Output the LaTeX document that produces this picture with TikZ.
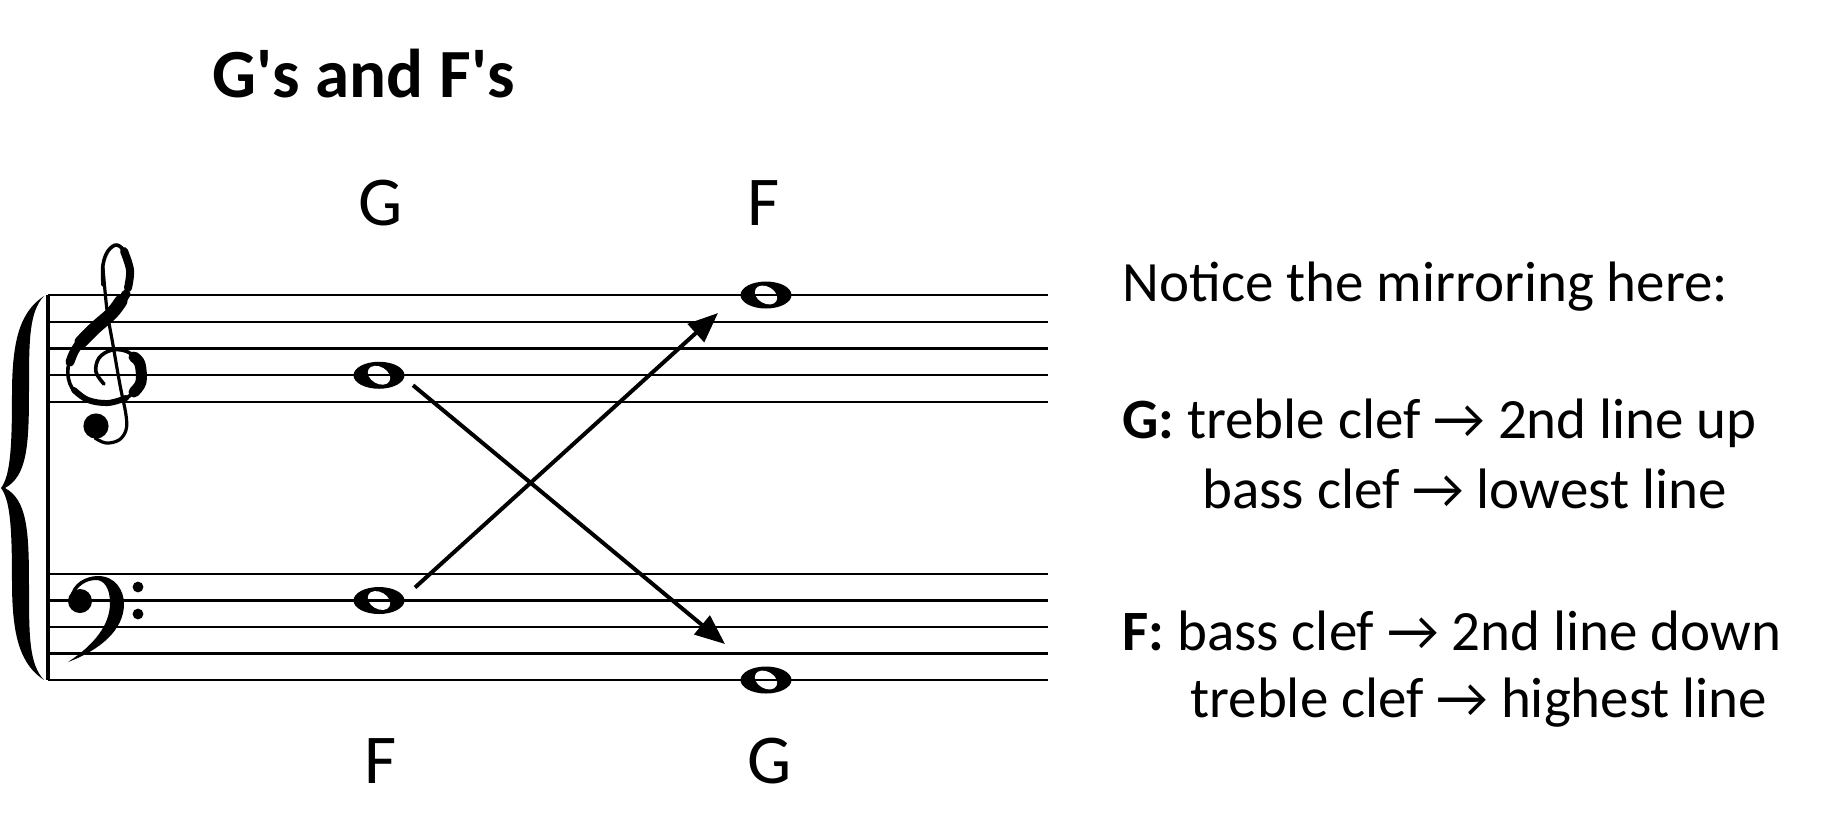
\documentclass[tikz,border=0pt]{standalone}
\usepackage{fontspec}
\setmainfont{Carlito}
\usetikzlibrary{shapes.geometric, arrows.meta}

\newcommand{\wholenote}[2]{%
  \node[notehead] (#1) at (#2) {};
  \fill[white, rotate around={-30:(#1.center)}] (#1.center) ellipse [x radius=6pt, y radius=4.2pt];
}

\begin{document}
\begin{tikzpicture}[x=0.5pt, y=-0.5pt,
    staffline/.style={line width=1.2pt},
    clefpen/.style={line width=#1, line cap=round, line join=round},
    notehead/.style={ellipse, fill=black, minimum width=25.5pt, minimum height=13.5pt, inner sep=0pt},
    notename/.style={anchor=base, inner sep=0pt, font=\fontsize{35}{42}\selectfont},
    infotext/.style={anchor=base west, inner sep=0pt, font=\fontsize{28.5}{34}\selectfont},
    mirror/.style={line width=2pt, -{Triangle[length=15pt, width=12pt]}}]
  \useasboundingbox (0,0) rectangle (1830,821);

  % Title
  \node[anchor=base west, inner sep=0pt, font=\fontsize{34.5}{42}\selectfont\bfseries] (title) at (212,97) {G\textquotesingle s and F\textquotesingle s};

  % Notes
  \wholenote{gtreble}{379,375.25}
  \wholenote{ftreble}{766,295}
  \wholenote{fbass}{379,600.5}
  \wholenote{gbass}{766,680}

  % Staves
  \foreach \y in {295,321.75,348.5,375.25,402} \draw[staffline] (48,\y) -- (1048,\y);
  \foreach \y in {574,600.5,627,653.5,680} \draw[staffline] (48,\y) -- (1048,\y);
  \draw[line width=1.6pt] (48,295) -- (48,680);

  % Brace
  \fill (44,296) .. controls (20,312) and (12,340) .. (12,395)
    .. controls (12,450) and (10,476) .. (1,488)
    .. controls (10,500) and (12,526) .. (12,581)
    .. controls (12,636) and (20,664) .. (44,680)
    .. controls (29,664) and (29,636) .. (29,585)
    .. controls (29,530) and (27,500) .. (5,488)
    .. controls (27,476) and (29,446) .. (29,391)
    .. controls (29,340) and (29,312) .. (44,296) -- cycle;

  % Treble clef
  \draw[clefpen=1.8pt] plot[smooth, tension=0.6] coordinates {(103,285) (103,265) (108,251) (117,245) (126,254) (130,272) (127,292) (115,310) (95,328) (77,347) (68,368) (72,388) (88,400) (108,403) (128,397) (141,382) (140,364) (128,352) (112,350) (99,358) (96,372) (104,384)};
  \draw[clefpen=1.6pt] plot[smooth, tension=0.6] coordinates {(103,268) (107,310) (113,345) (120,385) (126,415) (126,430) (119,440) (106,443) (95,438)};
  \draw[clefpen=6.5pt] plot[smooth, tension=0.6] coordinates {(121,301) (112,313) (95,328) (81,342)};
  \draw[clefpen=4.5pt] plot[smooth, tension=0.6] coordinates {(126,294) (115,310) (95,328) (77,347) (70,362)};
  \draw[clefpen=5.5pt] plot[smooth, tension=0.6] coordinates {(134,392) (141,382) (140,364) (134,357)};
  \draw[clefpen=4pt] plot[smooth, tension=0.6] coordinates {(124,251) (130,270) (128,288)};
  \draw[clefpen=3pt] plot[smooth, tension=0.6] coordinates {(74,390) (88,400) (108,403) (126,398)};
  \fill (96,426) circle [radius=6.3pt];

  % Bass clef
  \fill (70,598) .. controls (72,583) and (86,576) .. (98,576)
    .. controls (115,576) and (124,590) .. (124,604)
    .. controls (124,630) and (100,650) .. (68,662)
    .. controls (94,645) and (110,625) .. (110,603)
    .. controls (110,588) and (104,580) .. (96,580)
    .. controls (86,580) and (78,586) .. (74,594) -- cycle;
  \fill (80,601) circle [radius=6pt];
  \fill (138,587) circle [radius=2.7pt];
  \fill (138,614) circle [radius=2.7pt];

  % Note names
  \node[notename] (gtop) at (381,225) {G};
  \node[notename] (ftop) at (764,225) {F};
  \node[notename] (fbot) at (381,783) {F};
  \node[notename] (gbot) at (770,783) {G};

  % Arrows
  \draw[mirror] ([shift={(36,-13)}]fbass.center) -- ([shift={(-48,18)}]ftreble.center);
  \draw[mirror] ([shift={(34,10)}]gtreble.center) -- ([shift={(-41,-36)}]gbass.center);

  % Explanation
  \node[infotext] (notice) at (1122,301) {Notice the mirroring here:};
  \node[infotext] (gline) at (1122,438) {\textbf{G:} treble clef → 2nd line up};
  \node[infotext] (gbassline) at (1202,508) {bass clef → lowest line};
  \node[infotext] (fline) at (1122,650) {\textbf{F:} bass clef → 2nd line down};
  \node[infotext] (ftrebleline) at (1190,717) {treble clef → highest line};
\end{tikzpicture}
\end{document}
